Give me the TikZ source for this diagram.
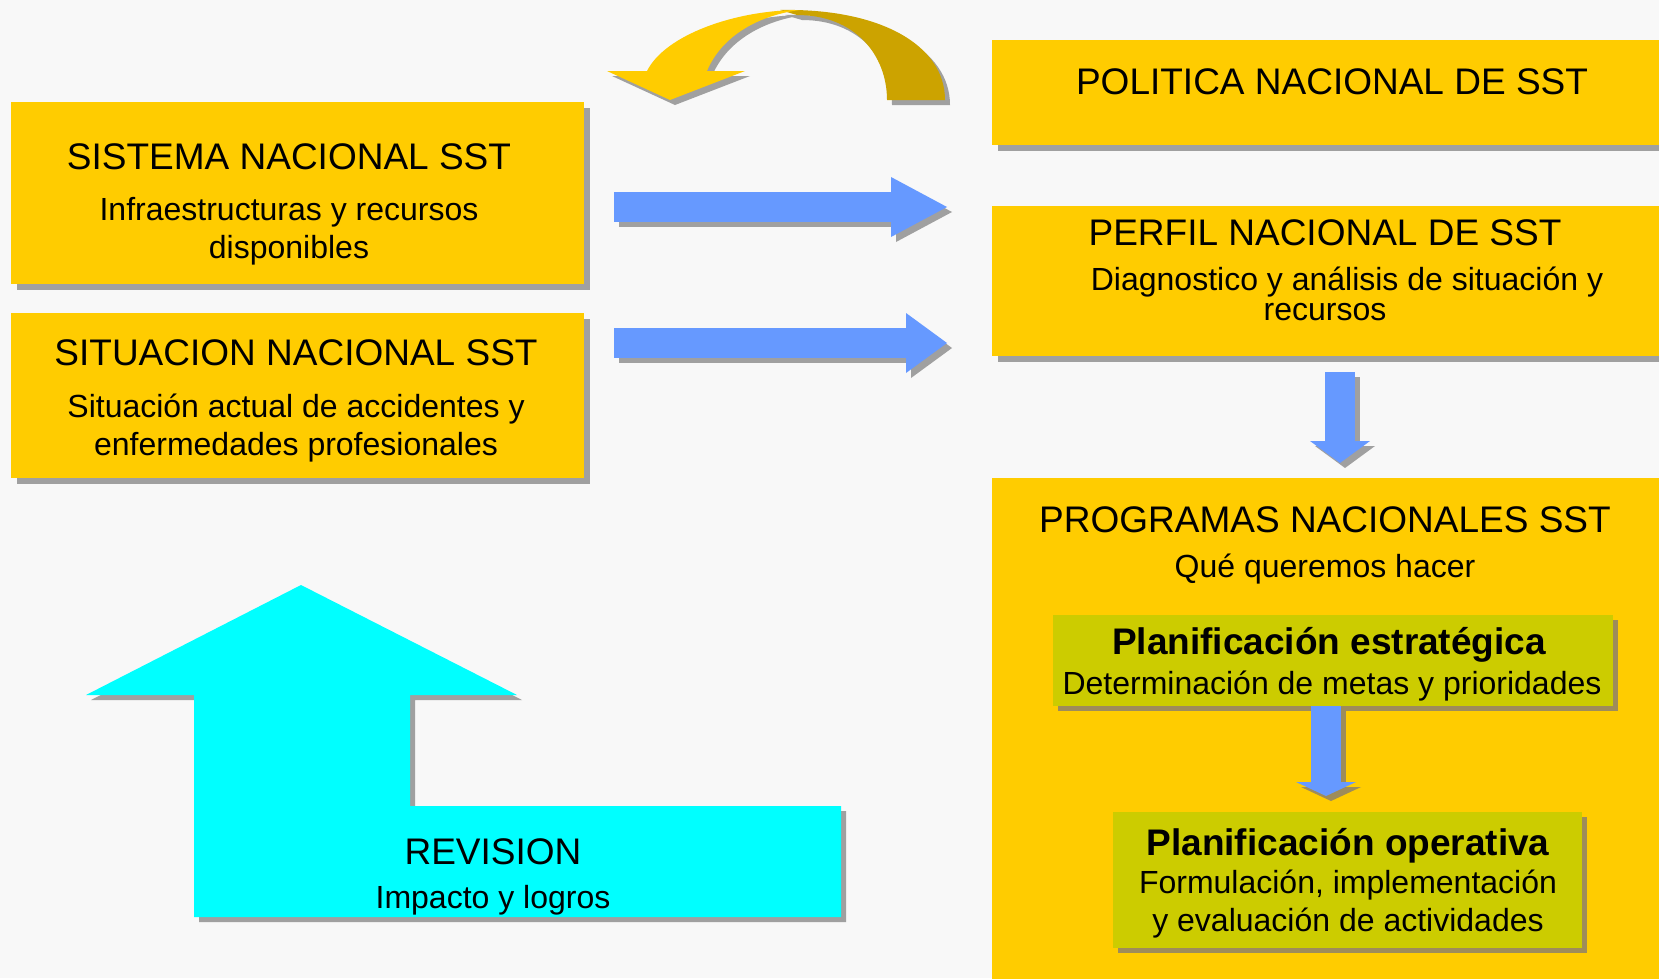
\documentclass[tikz,border=0pt]{standalone}
\usepackage{fontspec}
\setmainfont{Liberation Sans}
\usepackage{xcolor}
\usetikzlibrary{arrows.meta,shadows}

\definecolor{fondo}{HTML}{F8F8F8}
\definecolor{ambar}{HTML}{FFCC00}
\definecolor{oliva}{HTML}{CCCC00}
\definecolor{azul}{HTML}{6699FF}
\definecolor{cian}{HTML}{00FFFF}
\definecolor{oro}{HTML}{CCA300}
\definecolor{sombra}{HTML}{A0A0A0}
\definecolor{sombrab}{HTML}{9E8C5A}

\tikzset{
  caja/.style={fill=ambar, inner sep=0pt, anchor=north west,
    drop shadow={shadow xshift=6pt, shadow yshift=-6pt, fill=sombra, opacity=1}},
  subcaja/.style={fill=oliva, inner sep=0pt, anchor=north west,
    drop shadow={shadow xshift=5pt, shadow yshift=-5pt, fill=sombrab, opacity=1}},
  titulo/.style={anchor=base, inner sep=0pt, font=\fontsize{37}{44}\selectfont},
  negrita/.style={anchor=base, inner sep=0pt, font=\fontsize{37}{44}\selectfont\bfseries},
  texto/.style={anchor=base, inner sep=0pt, align=center, font=\fontsize{32}{38}\selectfont},
  flecha/.style args={#1/#2}{draw=#1, line width=30pt,
    -{Triangle[length=#2, width=60pt, line width=0pt]}},
  sombreado/.style={transform canvas={xshift=5pt, yshift=-5pt}}
}

\begin{document}
\begin{tikzpicture}[x=1pt,y=-1pt]
  \fill[fondo] (0,0) rectangle (1659,978);
  \useasboundingbox (0,0) rectangle (1659,978);

  % curved arrow at the top
  \begin{scope}[sombreado]
    \fill[sombra] (780,10) .. controls (880,8) and (945,45) .. (945,100) -- (887,100)
      .. controls (887,55) and (855,15) .. (797,15) -- cycle;
    \fill[sombra] (607,71) -- (647,71) .. controls (665,35) and (735,10) .. (800,10)
      .. controls (760,15) and (722,35) .. (707,71) -- (745,71) -- (670,100) -- cycle;
  \end{scope}
  \fill[oro] (780,10) .. controls (880,8) and (945,45) .. (945,100) -- (887,100)
    .. controls (887,55) and (855,15) .. (797,15) -- cycle;
  \fill[ambar] (607,71) -- (647,71) .. controls (665,35) and (735,10) .. (800,10)
    .. controls (760,15) and (722,35) .. (707,71) -- (745,71) -- (670,100) -- cycle;

  % boxes
  \node[caja, minimum width=573, minimum height=182] (sistema) at (11,102) {};
  \node[caja, minimum width=573, minimum height=165] (situacion) at (11,313) {};
  \node[caja, minimum width=680, minimum height=105] (politica) at (992,40) {};
  \node[caja, minimum width=680, minimum height=150] (perfil) at (992,206) {};
  \node[caja, minimum width=680, minimum height=520] (programas) at (992,478) {};
  \node[subcaja, minimum width=560, minimum height=91] (estrategica) at (1053,615) {};
  \node[subcaja, minimum width=469, minimum height=136] (operativa) at (1113,812) {};

  % blue arrows
  \draw[sombreado, flecha=sombra/56pt, shorten <=30pt, shorten >=45pt]
    (sistema.east |- 0,207) -- (perfil.west |- 0,207);
  \draw[flecha=azul/56pt, shorten <=30pt, shorten >=45pt]
    (sistema.east |- 0,207) -- (perfil.west |- 0,207);
  \draw[sombreado, flecha=sombra/41pt, shorten <=30pt, shorten >=45pt]
    (situacion.east |- 0,343) -- (perfil.west |- 0,343);
  \draw[flecha=azul/41pt, shorten <=30pt, shorten >=45pt]
    (situacion.east |- 0,343) -- (perfil.west |- 0,343);
  \draw[sombreado, flecha=sombra/22pt, shorten <=16pt, shorten >=15pt]
    (1340,0 |- perfil.south) -- (1340,0 |- programas.north);
  \draw[flecha=azul/22pt, shorten <=16pt, shorten >=15pt]
    (1340,0 |- perfil.south) -- (1340,0 |- programas.north);
  \draw[sombreado, flecha=sombrab/14pt, shorten >=16pt]
    (1326,0 |- estrategica.south) -- (1326,0 |- operativa.north);
  \draw[flecha=azul/14pt, shorten >=16pt]
    (1326,0 |- estrategica.south) -- (1326,0 |- operativa.north);

  % revision arrow
  \fill[sombra, sombreado] (301,585) -- (517,695) -- (410,695) -- (410,806) -- (841,806)
    -- (841,917) -- (194,917) -- (194,695) -- (86,695) -- cycle;
  \fill[cian] (301,585) -- (517,695) -- (410,695) -- (410,806) -- (841,806)
    -- (841,917) -- (194,917) -- (194,695) -- (86,695) -- cycle;

  % texts (base = last line)
  \node[titulo] (sistematit) at (289,169) {SISTEMA NACIONAL SST};
  \node[texto] (sistematxt) at (289,258) {Infraestructuras y recursos\\disponibles};
  \node[titulo] (situaciontit) at (296,365) {SITUACION NACIONAL SST};
  \node[texto] (situaciontxt) at (296,455) {Situación actual de accidentes y\\enfermedades profesionales};
  \node[titulo] (politicatit) at (1332,94) {POLITICA NACIONAL DE SST};
  \node[titulo] (perfiltit) at (1325,245) {PERFIL NACIONAL DE SST};
  \node[texto] (perfiltxta) at (1347,290) {Diagnostico y análisis de situación y};
  \node[texto] (perfiltxtb) at (1325,320) {recursos};
  \node[titulo] (programastit) at (1325,532) {PROGRAMAS NACIONALES SST};
  \node[texto] (programastxt) at (1325,577) {Qué queremos hacer};
  \node[negrita] (estrategicatit) at (1329,654) {Planificación estratégica};
  \node[texto] (estrategicatxt) at (1332,694) {Determinación de metas y prioridades};
  \node[negrita] (operativatit) at (1348,855) {Planificación operativa};
  \node[texto] (operativatxt) at (1348,931) {Formulación, implementación\\y evaluación de actividades};
  \node[titulo] (revisiontit) at (493,864) {REVISION};
  \node[texto] (revisiontxt) at (493,908) {Impacto y logros};
\end{tikzpicture}
\end{document}
